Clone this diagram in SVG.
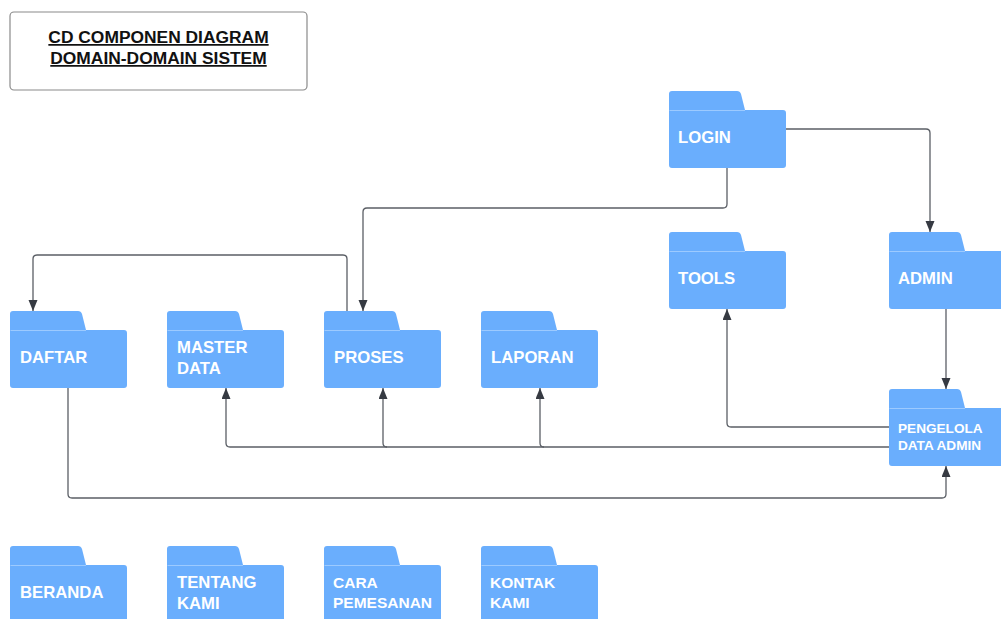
<svg xmlns="http://www.w3.org/2000/svg" xmlns:xlink="http://www.w3.org/1999/xlink" width="1001" height="619" viewBox="0 0 1001 619">
<style>
.folder{fill:#6aaefd}
.sep{stroke:#9ccaff;stroke-width:1;fill:none}
.lbl{font-family:"Liberation Sans",Arial,sans-serif;font-weight:bold;fill:#ffffff;font-size:16.7px}
.sm{font-size:15.5px}
.xs{font-size:13.6px}
.title{font-family:"Liberation Sans",Arial,sans-serif;font-weight:bold;fill:#111;font-size:17.4px;text-decoration:underline;text-anchor:middle}
.conn{fill:none;stroke:#5b5f66;stroke-width:1.3}
</style>
<defs>
<g id="folder">
<path class="folder" d="M0,3 Q0,0 3,0 H68 Q71,0 72,3 L76,19 H114 Q117,19 117,22 V74 Q117,77 114,77 H3 Q0,77 0,74 Z"/>
<path class="sep" d="M0.5,19.5 H76"/>
</g>
<marker id="arr" markerUnits="userSpaceOnUse" markerWidth="12" markerHeight="10" refX="11" refY="4.5" orient="auto">
<path d="M0,0 L11,4.5 L0,9 Z" fill="#363a42"/>
</marker>
</defs>
<rect width="1001" height="619" fill="#ffffff"/>
<g id="title">
<rect x="10" y="12" width="297" height="78" rx="4" fill="#ffffff" stroke="#8a8a8a" stroke-width="1.2"/>
<text class="title" x="158.5" y="43">CD COMPONEN DIAGRAM</text>
<text class="title" x="158.5" y="64">DOMAIN-DOMAIN SISTEM</text>
</g>
<g id="connectors">
<path class="conn" d="M786,129 H926 Q930,129 930,133 V232" marker-end="url(#arr)"/>
<path class="conn" d="M727,168 V204 Q727,208 723,208 H367 Q363,208 363,212 V311" marker-end="url(#arr)"/>
<path class="conn" d="M347,311 V259 Q347,255 343,255 H37 Q33,255 33,259 V311" marker-end="url(#arr)"/>
<path class="conn" d="M946,309 V389" marker-end="url(#arr)"/>
<path class="conn" d="M889,427 H731 Q727,427 727,423 V309" marker-end="url(#arr)"/>
<path class="conn" d="M889,447 H230 Q226,447 226,443 V388" marker-end="url(#arr)"/>
<path class="conn" d="M387,447 Q383,447 383,443 V388" marker-end="url(#arr)"/>
<path class="conn" d="M544,447 Q540,447 540,443 V388" marker-end="url(#arr)"/>
<path class="conn" d="M68,388 V494 Q68,498 72,498 H942 Q946,498 946,494 V466" marker-end="url(#arr)"/>
</g>
<g id="login"><use xlink:href="#folder" x="669" y="91"/><text class="lbl" x="678" y="143">LOGIN</text></g>
<g id="tools"><use xlink:href="#folder" x="669" y="232"/><text class="lbl" x="678" y="284">TOOLS</text></g>
<g id="admin"><use xlink:href="#folder" x="889" y="232"/><text class="lbl" x="898" y="284">ADMIN</text></g>
<g id="pengelola"><use xlink:href="#folder" x="889" y="389"/><text class="lbl xs" x="898" y="433">PENGELOLA</text><text class="lbl xs" x="898" y="450">DATA ADMIN</text></g>
<g id="daftar"><use xlink:href="#folder" x="10" y="311"/><text class="lbl" x="20" y="363">DAFTAR</text></g>
<g id="master-data"><use xlink:href="#folder" x="167" y="311"/><text class="lbl" x="177" y="353">MASTER</text><text class="lbl" x="177" y="374">DATA</text></g>
<g id="proses"><use xlink:href="#folder" x="324" y="311"/><text class="lbl" x="334" y="363">PROSES</text></g>
<g id="laporan"><use xlink:href="#folder" x="481" y="311"/><text class="lbl" x="491" y="363">LAPORAN</text></g>
<g id="beranda"><use xlink:href="#folder" x="10" y="546"/><text class="lbl" x="20" y="598">BERANDA</text></g>
<g id="tentang-kami"><use xlink:href="#folder" x="167" y="546"/><text class="lbl" x="177" y="588">TENTANG</text><text class="lbl" x="177" y="609">KAMI</text></g>
<g id="cara-pemesanan"><use xlink:href="#folder" x="324" y="546"/><text class="lbl sm" x="333" y="588">CARA</text><text class="lbl sm" x="333" y="608">PEMESANAN</text></g>
<g id="kontak-kami"><use xlink:href="#folder" x="481" y="546"/><text class="lbl sm" x="490" y="588">KONTAK</text><text class="lbl sm" x="490" y="608">KAMI</text></g>
</svg>
